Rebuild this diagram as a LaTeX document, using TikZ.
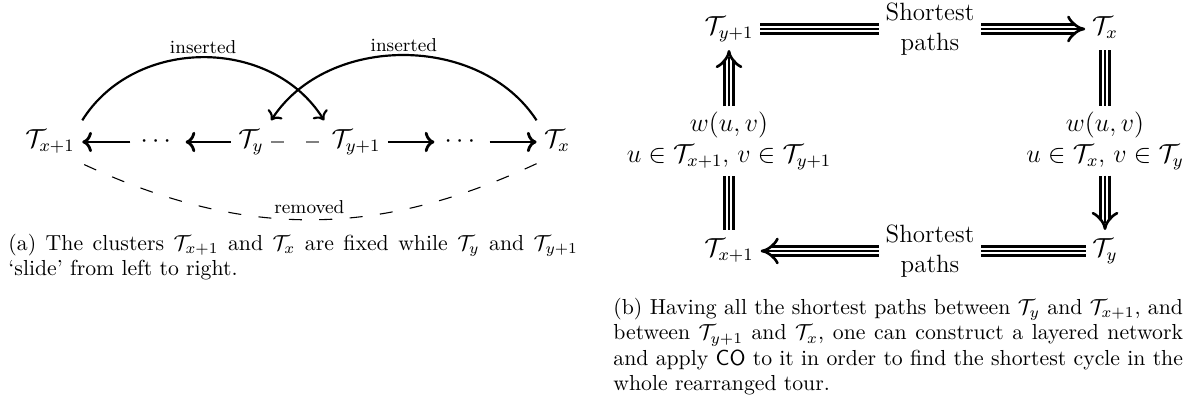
\documentclass[tikz,border=0pt]{standalone}
\usepackage{amsmath,amssymb}
\usetikzlibrary{arrows.meta,positioning}
\newcommand{\clu}[1]{\mathcal{T}_{#1}}

\begin{document}
\begin{tikzpicture}[x=0.46pt,y=0.46pt,
  every node/.style={font=\fontsize{11.5}{14}\selectfont,inner sep=2.5pt},
  clus/.style={text height=2.1ex,text depth=.9ex,inner sep=3.3pt},
  lab/.style={font=\fontsize{8.6}{10.4}\selectfont,inner sep=1pt},
  capt/.style={font=\fontsize{10}{11.6}\selectfont,text width=262pt,align=justify,anchor=north west,inner sep=0pt},
  move/.style={line width=1.3pt,-To},
  jump/.style={line width=1pt,-To},
  gone/.style={line width=.5pt,dash pattern=on 6pt off 8pt},
  cut/.style={gray,line width=1.2pt,dash pattern=on 6pt off 10pt},
  trip/.style={line width=1.2pt,double distance=3pt},
  core/.style={line width=1.2pt}]
\useasboundingbox (0,0) rectangle (1196,402);
% (a) sliding clusters
\node[clus] (tA) at (50,260) {$\clu{x+1}$};
\node[clus,inner sep=4.5pt] (dA) at (158,260) {$\cdots$};
\node[clus] (yA) at (251,260) {$\clu{y}$};
\node[clus] (yB) at (356,260) {$\clu{y+1}$};
\node[clus,inner sep=4.5pt] (dB) at (462,260) {$\cdots$};
\node[clus] (xA) at (557,260) {$\clu{x}$};
\draw[move] (yA) -- (dA);
\draw[move] (dA) -- (tA);
\draw[move] (yB) -- (dB);
\draw[move] (dB) -- (xA);
\draw[cut] (yA) -- (yB);
\draw[jump] (tA.north east) to[out=58,in=122,looseness=1.05] node[lab,above] (insA) {inserted} (yB.north west);
\draw[jump] (xA.north west) to[out=123,in=57] node[lab,above] (insB) {inserted} (yA.north east);
\draw[gone] (xA.south west) to[out=205,in=-25] node[lab,anchor=base,yshift=3pt] (rem) {removed} (tA.south east);
\node[capt] (capA) at (8,168) {(a) The clusters $\clu{x+1}$ and $\clu{x}$ are fixed while $\clu{y}$ and $\clu{y+1}$\linebreak `slide' from left to right.};
% (b) layered network
\node[clus,inner sep=3pt] (r1) at (729,373) {$\clu{y+1}$};
\node[align=center,inner sep=3pt] (sp1) at (930,373) {Shortest\\paths};
\node[clus,inner sep=3pt] (r2) at (1105,373) {$\clu{x}$};
\node[align=center] (l1) at (729,261) {$w(u,v)$\\$u\in\clu{x+1}$, $v\in\clu{y+1}$};
\node[align=center] (l2) at (1105,261) {$w(u,v)$\\$u\in\clu{x}$, $v\in\clu{y}$};
\node[clus,inner sep=3pt] (r3) at (729,151) {$\clu{x+1}$};
\node[align=center,inner sep=3pt] (sp2) at (930,151) {Shortest\\paths};
\node[clus,inner sep=3pt] (r4) at (1105,151) {$\clu{y}$};
\draw[trip] (r1) -- (sp1);
\draw[core] (r1) -- (sp1);
\draw[trip,-{Implies}] (sp1) -- (r2);
\draw[core,shorten >=3pt] (sp1) -- (r2);
\draw[trip] (r2) -- (l2);
\draw[core] (r2) -- (l2);
\draw[trip,-{Implies}] (l2) -- (r4);
\draw[core,shorten >=3pt] (l2) -- (r4);
\draw[trip] (r4) -- (sp2);
\draw[core] (r4) -- (sp2);
\draw[trip,-{Implies}] (sp2) -- (r3);
\draw[core,shorten >=3pt] (sp2) -- (r3);
\draw[trip] (r3) -- (l1);
\draw[core] (r3) -- (l1);
\draw[trip,-{Implies}] (l1) -- (r1);
\draw[core,shorten >=3pt] (l1) -- (r1);
\node[capt] (capB) at (613,104) {(b) Having all the shortest paths between $\clu{y}$ and $\clu{x+1}$, and\linebreak between $\clu{y+1}$ and $\clu{x}$, one can construct a layered network\linebreak and apply \textsf{CO} to it in order to find the shortest cycle in the\linebreak whole rearranged tour.};
\end{tikzpicture}
\end{document}
